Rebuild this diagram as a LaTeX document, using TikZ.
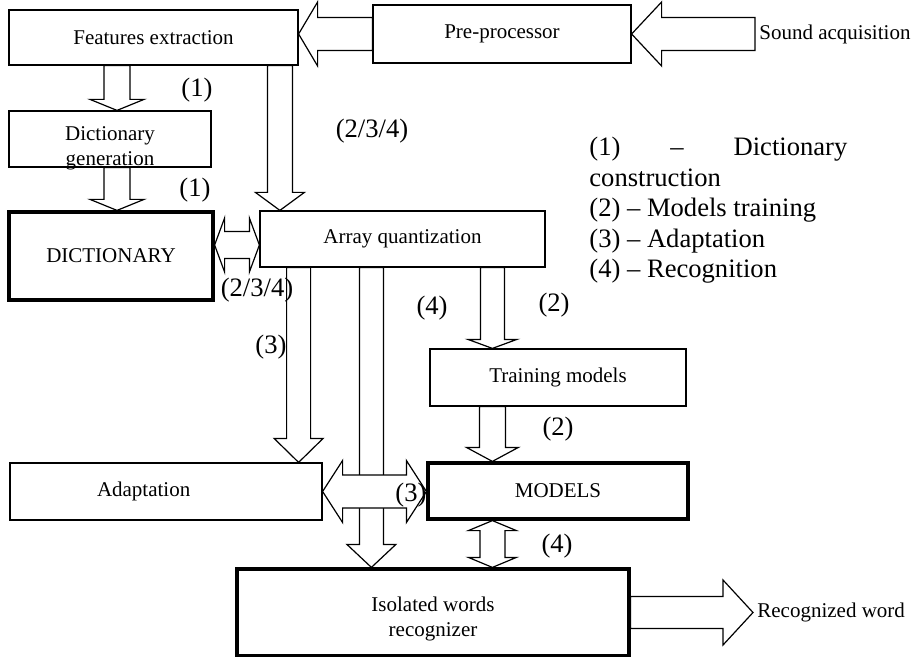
\documentclass[tikz,border=0pt]{standalone}
\usepackage{fontspec}
\setmainfont{Liberation Serif}
\usetikzlibrary{calc,backgrounds}

\newcommand{\fatarrow}[6][]{%
  \path (#2) coordinate (fa-s) (#3) coordinate (fa-e);
  \path ($(fa-e)!#6!(fa-s)$) coordinate (fa-h);
  \draw[blockarrow,#1] ($(fa-s)!#4!90:(fa-e)$) -- ($(fa-h)!#4!90:(fa-e)$)
    -- ($(fa-h)!#5!90:(fa-e)$) -- (fa-e) -- ($(fa-h)!#5!-90:(fa-e)$)
    -- ($(fa-h)!#4!-90:(fa-e)$) -- ($(fa-s)!#4!-90:(fa-e)$) -- cycle;}
\newcommand{\fatdarrow}[6][]{%
  \path (#2) coordinate (fa-s) (#3) coordinate (fa-e);
  \path ($(fa-s)!#6!(fa-e)$) coordinate (fa-a) ($(fa-e)!#6!(fa-s)$) coordinate (fa-b);
  \draw[blockarrow,#1] (fa-s) -- ($(fa-a)!#5!90:(fa-e)$) -- ($(fa-a)!#4!90:(fa-e)$)
    -- ($(fa-b)!#4!90:(fa-e)$) -- ($(fa-b)!#5!90:(fa-e)$) -- (fa-e)
    -- ($(fa-b)!#5!-90:(fa-e)$) -- ($(fa-b)!#4!-90:(fa-e)$)
    -- ($(fa-a)!#4!-90:(fa-e)$) -- ($(fa-a)!#5!-90:(fa-e)$) -- cycle;}

\begin{document}
\begin{tikzpicture}[x=0.5pt, y=-0.5pt,
    every node/.style = {inner sep=0pt, align=center},
    box/.style = {shape=rectangle, draw, line width=0.6pt,
      font=\fontsize{10.5}{12.5}\selectfont},
    bold box/.style = {box, line width=1.6pt},
    plain/.style = {font=\fontsize{10.5}{12.5}\selectfont, inner xsep=2pt, anchor=west},
    num/.style = {font=\fontsize{13.3}{15.25}\selectfont},
    blockarrow/.style = {draw, line width=0.6pt, fill=white, line join=miter}]
    \useasboundingbox (0,0) rectangle (914,657);

    \node[box, minimum width=144.5pt, minimum height=27.5pt] (fe) at (153.5,37.5) {Features extraction};
    \node[box, minimum width=129pt, minimum height=29pt] (pp) at (502,34) {Pre-processor};
    \node[plain] (snd) at (755,34) {Sound acquisition};
    \node[box, minimum width=101pt, minimum height=28pt,
      text height=27.5pt, text depth=0.5pt] (dg) at (110,139) {Dictionary\\generation};
    \node[bold box, minimum width=102pt, minimum height=44pt] (dict) at (111,256) {DICTIONARY};
    \node[box, minimum width=142.5pt, minimum height=28pt] (aq) at (402.5,239) {Array quantization};
    \node[box, minimum width=128pt, minimum height=28.5pt] (tm) at (558,377.5) {Training models};
    \node[box, minimum width=156pt, minimum height=28.5pt, text width=69pt,
      inner xsep=43.5pt, align=left] (ad) at (166,491.5) {Adaptation};
    \node[bold box, minimum width=130pt, minimum height=28pt] (mod) at (558,491) {MODELS};
    \node[bold box, minimum width=196pt, minimum height=43.5pt,
      text height=33.5pt, text depth=10pt] (iwr) at (433,612.5) {Isolated words\\recognizer};
    \node[plain] (rw) at (753,612.5) {Recognized word};

    \node[num, anchor=north west, align=left] (legend) at (589,137)
      {\makebox[129pt][l]{(1)\hfill–\hfill Dictionary}\\construction\\
       (2) – Models training\\(3) – Adaptation\\(4) – Recognition};

    \node[num] (n1) at (197,90) {(1)};
    \node[num] (n2) at (195,190) {(1)};
    \node[num] (n3) at (372,131) {(2/3/4)};
    \node[num] (n4) at (257,290) {(2/3/4)};
    \node[num] (n5) at (271,347) {(3)};
    \node[num] (n6) at (432,308) {(4)};
    \node[num] (n7) at (554,305) {(2)};
    \node[num] (n8) at (558,429) {(2)};
    \node[num] (n9) at (411,495) {(3)};
    \node[num] (n10) at (557,546) {(4)};

    \coordinate (x-dg) at ($(dg.north)+(7,0)$);
    \coordinate (x-aq) at ($(aq.north west)+(20.5,0)$);
    \coordinate (y-da) at ($(aq.west)+(0,6)$);
    \coordinate (x-ad) at ($(ad.north east)+(-24,0)$);
    \coordinate (x-iwr) at ($(iwr.north west)+(136,0)$);
    \coordinate (x-tm) at ($(tm.north west)+(63,0)$);
    \coordinate (x-mi) at ($(iwr.north west)+(257,0)$);

    \begin{pgfonlayer}{background}
    \fatarrow{snd.west}{pp.east}{8.25pt}{16pt}{15pt}
    \fatarrow{pp.west}{fe.east |- pp.west}{8.25pt}{16pt}{9.5pt}
    \fatarrow{fe.south -| x-dg}{x-dg}{6.5pt}{13.5pt}{5.5pt}
    \fatarrow{dg.south -| x-dg}{dict.north -| x-dg}{6.5pt}{13.5pt}{5.5pt}
    \fatarrow{fe.south -| x-aq}{x-aq}{6.25pt}{12.25pt}{9pt}
    \fatdarrow{dict.east |- y-da}{y-da}{6.75pt}{13.5pt}{5pt}
    \fatarrow{aq.south -| x-ad}{x-ad}{6pt}{12.25pt}{12pt}
    \fatarrow{aq.south -| x-iwr}{x-iwr}{6pt}{12.25pt}{11.5pt}
    \fatarrow{aq.south -| x-tm}{x-tm}{6pt}{12.25pt}{4.5pt}
    \fatarrow{tm.south -| x-tm}{mod.north -| x-tm}{6.5pt}{13pt}{7pt}
    % drawn over the long shaft to the recognizer
    \fatdarrow{ad.east}{mod.west |- ad.east}{8.25pt}{15.5pt}{10pt}
    \fatdarrow{mod.south -| x-mi}{x-mi}{6.25pt}{12pt}{5pt}
    \fatarrow{iwr.east}{rw.west}{8pt}{16.25pt}{15pt}
    \end{pgfonlayer}
\end{tikzpicture}
\end{document}
